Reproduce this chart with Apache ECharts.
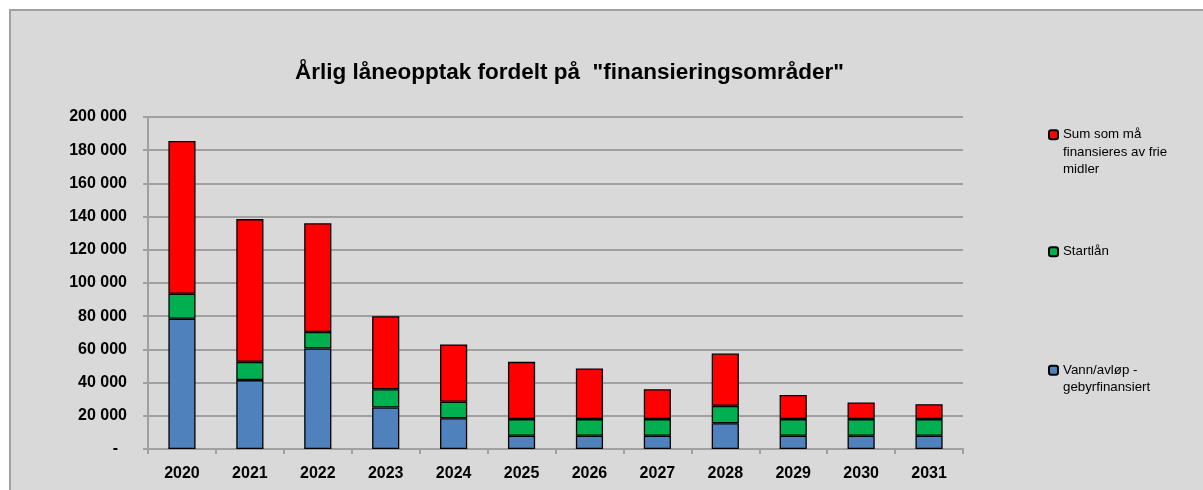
<!DOCTYPE html>
<html>
<head>
<meta charset="utf-8">
<script src="https://cdn.jsdelivr.net/npm/echarts@6/dist/echarts.min.js"></script>
<style>
  html, body { margin: 0; padding: 0; background: #fff; }
  #chart { width: 1203px; height: 490px; }
</style>
</head>
<body>
<div id="chart"></div>
<script>
const years = ['2020', '2021', '2022', '2023', '2024', '2025', '2026', '2027', '2028', '2029', '2030', '2031']
const vannAvlop = [78500, 41500, 60500, 25000, 18500, 8000, 8000, 8000, 15500, 8000, 8000, 8000]
const startlan = [15000, 11000, 10000, 11000, 10000, 10000, 10000, 10000, 10500, 10000, 10000, 10000]
const frieMidler = [92000, 86000, 65500, 44000, 34500, 34500, 30500, 18000, 31500, 14500, 10000, 9000]

const names = ['Vann/avløp -\ngebyrfinansiert', 'Startlån', 'Sum som må\nfinansieres av frie\nmidler']
const colors = ['#4f81bd', '#00b050', '#ff0000']

const font = 'Liberation Sans, Arial, sans-serif'
const lineH = 17.5

function fmt(v) {
  if (v === 0) return '-  '
  return String(v).replace(/\B(?=(\d{3})+(?!\d))/g, ' ')
}

// one legend per item so each can sit at its own height;
// blank lines in front keep the marker beside the first text line
function legendFor(name, top) {
  const lines = name.split('\n').length
  return {
    data: [name],
    left: 1048,
    top: top,
    orient: 'vertical',
    padding: 0,
    itemWidth: 9,
    itemHeight: 9,
    selectedMode: false,
    formatter: n => '\n'.repeat(lines - 1) + n,
    textStyle: {
      fontFamily: font,
      fontSize: 13.3,
      color: '#000',
      lineHeight: lineH
    }
  }
}

const chart = echarts.init(document.getElementById('chart'))

chart.setOption({
  backgroundColor: '#fff',
  animation: false,
  graphic: [{
    type: 'rect',
    z: -10,
    silent: true,
    shape: { x: 10, y: 10, width: 1200, height: 495 },
    style: { fill: '#d9d9d9', stroke: '#a0a0a0', lineWidth: 2 }
  }],
  title: {
    text: 'Årlig låneopptak fordelt på  "finansieringsområder"',
    left: 290,
    top: 56,
    textStyle: {
      fontFamily: font,
      fontSize: 22.5,
      fontWeight: 'bold',
      color: '#000'
    }
  },
  legend: [
    legendFor(names[2], 91),
    legendFor(names[1], 243),
    legendFor(names[0], 344)
  ],
  grid: {
    left: 148,
    right: 240,
    top: 117,
    bottom: 41,
    containLabel: false
  },
  xAxis: {
    type: 'category',
    data: years,
    axisLine: { lineStyle: { color: '#a0a0a0', width: 2 } },
    axisTick: { show: true, length: 5, lineStyle: { color: '#a0a0a0', width: 2 } },
    axisLabel: {
      margin: 17,
      fontFamily: font,
      fontSize: 16,
      fontWeight: 'bold',
      color: '#000'
    }
  },
  yAxis: {
    type: 'value',
    min: 0,
    max: 200000,
    interval: 20000,
    axisLine: { show: true, lineStyle: { color: '#a0a0a0', width: 2 } },
    axisTick: { show: true, length: 5, lineStyle: { color: '#a0a0a0', width: 2 } },
    splitLine: { lineStyle: { color: '#a0a0a0', width: 2 } },
    axisLabel: {
      margin: 21,
      fontFamily: font,
      fontSize: 16,
      fontWeight: 'bold',
      color: '#000',
      formatter: fmt
    }
  },
  series: [
    {
      name: names[0],
      type: 'bar',
      stack: 'total',
      barWidth: '40%',
      data: vannAvlop,
      itemStyle: { color: colors[0], borderColor: '#000', borderWidth: 1.3 }
    },
    {
      name: names[1],
      type: 'bar',
      stack: 'total',
      barWidth: '40%',
      data: startlan,
      itemStyle: { color: colors[1], borderColor: '#000', borderWidth: 1.3 }
    },
    {
      name: names[2],
      type: 'bar',
      stack: 'total',
      barWidth: '40%',
      data: frieMidler,
      itemStyle: { color: colors[2], borderColor: '#000', borderWidth: 1.3 }
    }
  ]
})
</script>
</body>
</html>
